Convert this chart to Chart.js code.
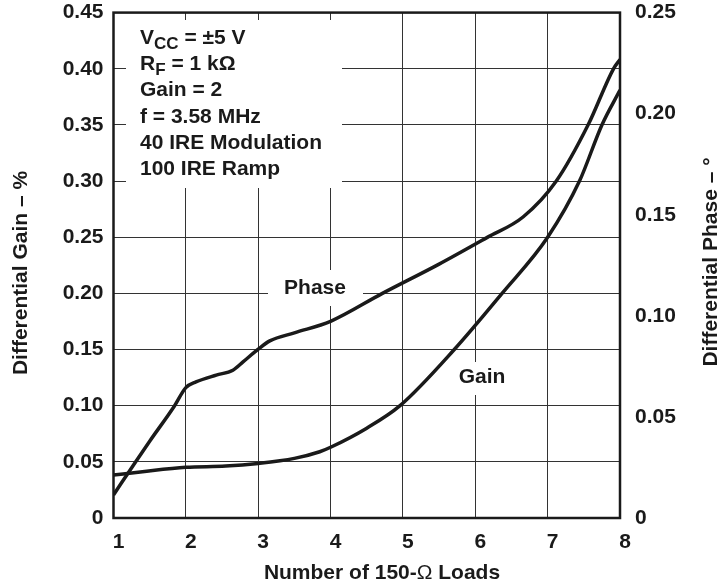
<!DOCTYPE html>
<html>
<head>
<meta charset="utf-8">
<script src="https://cdn.jsdelivr.net/npm/chart.js@4"></script>
<style>
  html, body { margin: 0; padding: 0; background: #fff; }
  #wrap { width: 721px; height: 586px; }
</style>
</head>
<body>
<div id="wrap"><canvas id="chart" width="721" height="586"></canvas></div>
<script>
// ========== data ==========
const gainLoads  = [1, 1.4, 2, 2.55, 3, 3.5, 3.85, 4, 4.5, 4.96, 5.71, 6.37, 7, 7.44, 7.75, 8]
const gainValues = [0.0382, 0.0412, 0.0451, 0.0462, 0.0486, 0.0531, 0.059, 0.063, 0.08, 0.10, 0.15, 0.20, 0.25, 0.30, 0.35, 0.381]

const phaseLoads  = [1, 1.3, 1.5, 1.84, 2, 2.14, 2.42, 2.65, 2.79, 3, 3.16, 3.5, 4, 4.71, 5.5, 6.16, 6.66, 7.12, 7.56, 7.91, 8]
const phaseValues = [0.0114, 0.0275, 0.038, 0.0553, 0.0645, 0.0673, 0.0707, 0.0731, 0.0772, 0.0835, 0.0876, 0.0916, 0.0973, 0.111, 0.1256, 0.1387, 0.1489, 0.1667, 0.1945, 0.2222, 0.2268]

const loadTicks  = [1, 2, 3, 4, 5, 6, 7, 8]
const gainTicks  = [0, 0.05, 0.10, 0.15, 0.20, 0.25, 0.30, 0.35, 0.40, 0.45]
const phaseTicks = [0, 0.05, 0.10, 0.15, 0.20, 0.25]

const conditions = [
    ['V', 'CC', ' = \u00b15 V'],
    ['R', 'F', ' = 1 k\u03a9'],
    ['Gain = 2'],
    ['f = 3.58 MHz'],
    ['40 IRE Modulation'],
    ['100 IRE Ramp']
]

const FONT = '"Liberation Sans", Arial, sans-serif'
const SIZE = 21
const INK = '#1a1a1a'

function toPoints(xs, ys){
    let pts = []
    for(let i=0; i<xs.length; i++){
        pts.push({x: xs[i], y: ys[i]})
    }
    return pts
}

function fmt(v){
    return v === 0 ? '0' : v.toFixed(2)
}

// ========== labels, white boxes and frame ==========
const decorations = {
    id: 'decorations',
    beforeDatasetsDraw(chart){
        const ctx = chart.ctx
        ctx.save()
        ctx.fillStyle = '#fff'
        ctx.fillRect(126, 20, 216, 168)   // conditions box
        ctx.fillRect(268, 270, 95, 36)    // "Phase" label
        ctx.fillRect(455, 362, 55, 33)    // "Gain" label

        ctx.fillStyle = INK
        ctx.textBaseline = 'middle'
        ctx.textAlign = 'left'
        let y = 38
        for(let i=0; i<conditions.length; i++){
            let line = conditions[i]
            let x = 140
            ctx.font = 'bold ' + SIZE + 'px ' + FONT
            if(line.length === 3){
                ctx.fillText(line[0], x, y)
                x += ctx.measureText(line[0]).width
                ctx.font = 'bold 17px ' + FONT
                ctx.fillText(line[1], x, y + 6)
                x += ctx.measureText(line[1]).width
                ctx.font = 'bold ' + SIZE + 'px ' + FONT
                ctx.fillText(line[2], x, y)
            } else {
                ctx.fillText(line[0], x, y)
            }
            y += 26.3
        }

        ctx.textAlign = 'center'
        ctx.fillText('Phase', 315, 288)
        ctx.fillText('Gain', 482, 377)
        ctx.restore()
    },
    afterDraw(chart){
        const ctx = chart.ctx
        const a = chart.chartArea
        ctx.save()
        ctx.strokeStyle = INK
        ctx.lineWidth = 2.5
        ctx.strokeRect(a.left, a.top, a.right - a.left, a.bottom - a.top)

        ctx.fillStyle = INK
        ctx.font = 'bold ' + SIZE + 'px ' + FONT
        ctx.textBaseline = 'middle'
        ctx.textAlign = 'center'

        // left title
        ctx.save()
        ctx.translate(21, 273)
        ctx.rotate(-Math.PI / 2)
        ctx.fillText('Differential Gain \u2013 %', 0, 0)
        ctx.restore()

        // right title (reads bottom to top like the left one)
        ctx.save()
        ctx.translate(711, 262)
        ctx.rotate(-Math.PI / 2)
        ctx.fillText('Differential Phase \u2013 \u00b0', 0, 0)
        ctx.restore()

        // x title, omega drawn lighter like the original
        let parts = [['Number of 150-', 'bold'], ['\u03a9', 'normal'], [' Loads', 'bold']]
        let total = 0
        for(let p of parts){
            ctx.font = p[1] + ' ' + SIZE + 'px ' + FONT
            total += ctx.measureText(p[0]).width
        }
        let x = 382 - total / 2
        ctx.textAlign = 'left'
        for(let p of parts){
            ctx.font = p[1] + ' ' + SIZE + 'px ' + FONT
            ctx.fillText(p[0], x, 573)
            x += ctx.measureText(p[0]).width
        }
        ctx.restore()
    }
}

const tickFont = {family: FONT, size: SIZE, weight: 'bold'}

new Chart(document.getElementById('chart'), {
    type: 'line',
    data: {
        datasets: [
            {
                label: 'Gain',
                data: toPoints(gainLoads, gainValues),
                yAxisID: 'y',
                borderColor: INK,
                borderWidth: 3.5,
                pointRadius: 0,
                cubicInterpolationMode: 'monotone',
                fill: false
            },
            {
                label: 'Phase',
                data: toPoints(phaseLoads, phaseValues),
                yAxisID: 'y2',
                borderColor: INK,
                borderWidth: 3.5,
                pointRadius: 0,
                cubicInterpolationMode: 'monotone',
                fill: false
            }
        ]
    },
    options: {
        responsive: false,
        animation: false,
        events: [],
        layout: {padding: {top: 12, left: 0, right: 0, bottom: 0}},
        plugins: {
            legend: {display: false},
            tooltip: {enabled: false}
        },
        scales: {
            x: {
                type: 'linear',
                min: 1,
                max: 8,
                afterBuildTicks: (s) => { s.ticks = loadTicks.map(v => ({value: v})) },
                afterFit: (s) => { s.height = 68 },
                grid: {color: '#333', lineWidth: 1, drawTicks: false},
                border: {display: false},
                ticks: {font: tickFont, color: INK, padding: 12, labelOffset: 5, maxRotation: 0,
                    callback: (v) => String(v)}
            },
            y: {
                position: 'left',
                min: 0,
                max: 0.45,
                afterBuildTicks: (s) => { s.ticks = gainTicks.map(v => ({value: v})) },
                afterFit: (s) => { s.width = 113.5 },
                // gap to the labels comes from an invisible tick mark so it does not pad the top
                grid: {color: '#333', lineWidth: 1, drawTicks: true, tickLength: 10, tickColor: 'rgba(0,0,0,0)'},
                border: {display: false},
                ticks: {font: tickFont, color: INK, padding: 0, callback: (v) => fmt(v)}
            },
            y2: {
                position: 'right',
                min: 0,
                max: 0.25,
                afterBuildTicks: (s) => { s.ticks = phaseTicks.map(v => ({value: v})) },
                afterFit: (s) => { s.width = 101 },
                grid: {drawOnChartArea: false, drawTicks: true, tickLength: 15, tickColor: 'rgba(0,0,0,0)'},
                border: {display: false},
                ticks: {font: tickFont, color: INK, padding: 0, callback: (v) => fmt(v)}
            }
        }
    },
    plugins: [decorations]
})
</script>
</body>
</html>
